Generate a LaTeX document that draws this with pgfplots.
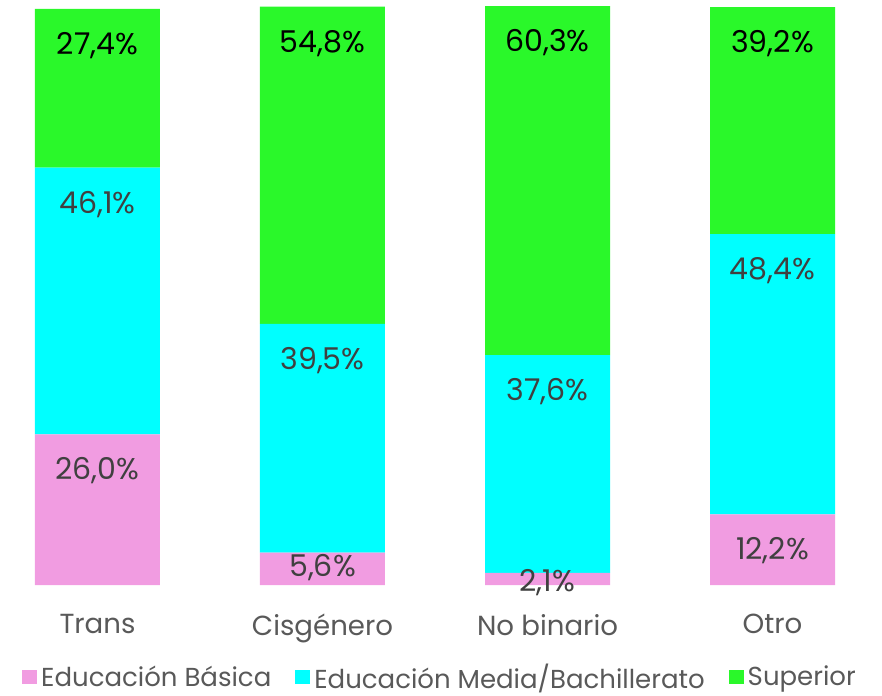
\documentclass[border=0pt]{standalone}
\usepackage{pgfplots}
\pgfplotsset{compat=1.18}
\usepackage{fontspec}
\setmainfont{Poppins}
\definecolor{cpink}{HTML}{F19CE1}
\definecolor{ccyan}{HTML}{00FFFF}
\definecolor{cgreen}{HTML}{2AF82A}
\definecolor{tgray}{HTML}{595959}
\definecolor{lgray}{HTML}{404040}
\begin{document}
\begin{tikzpicture}
\begin{axis}[
  at={(0,0)}, anchor=south west,
  scale only axis,
  width=441pt, height=292.5pt,
  xmin=-0.4333, xmax=3.4867,
  ymin=0, ymax=101.04,
  ybar stacked, bar width=62.5pt,
  axis line style={draw=none},
  tick style={draw=none},
  ytick=\empty,
  xtick={0,1,2,3},
  xticklabels={Trans,Cisgénero,No binario,Otro},
  xticklabel style={font=\fontsize{13.8}{16}\selectfont, text=tgray, yshift=-11pt},
  point meta=explicit,
  visualization depends on={\thisrow{off} \as \myoff},
  nodes near coords={\pgfmathprintnumber[fixed,fixed zerofill,precision=1,use comma,assume math mode=true]{\pgfplotspointmeta}\%},
  every node near coord/.append style={font=\fontsize{15}{18}\selectfont, anchor=center, yshift=\myoff pt - 1.3pt},
  legend style={at={(0.5,-0.158)}, anchor=center, draw=none, legend columns=3,
    font=\fontsize{13}{15}\selectfont, text=tgray,
    /tikz/every even column/.append style={column sep=10pt}},
  legend image code/.code={\fill (0pt,-3.5pt) rectangle (7.5pt,3.5pt);},
]
\addplot+[fill=cpink, draw=none, every node near coord/.append style={text=lgray}]
  table[x=x, y=y, meta=y] {
x y off
0 26.0 20.64
1 5.6 1.9
2 2.1 -0.5
3 12.2 0.85
};
\addlegendentry{Educación Básica}
\addplot+[fill=ccyan, draw=none, every node near coord/.append style={text=lgray}]
  table[x=x, y=y, meta=y] {
x y off
0 46.1 49.73
1 39.5 40.18
2 37.6 37.43
3 48.4 53.06
};
\addlegendentry{Educación Media/Bachillerato}
\addplot+[fill=cgreen, draw=none, every node near coord/.append style={text=black}]
  table[x=x, y=y, meta=y] {
x y off
0 27.4 22.66
1 54.8 62.32
2 60.3 70.28
3 39.2 39.74
};
\addlegendentry{Superior}
\end{axis}
\pgfresetboundingbox
\path (0,-55pt) rectangle (441pt,292.5pt);
\end{tikzpicture}
\end{document}
